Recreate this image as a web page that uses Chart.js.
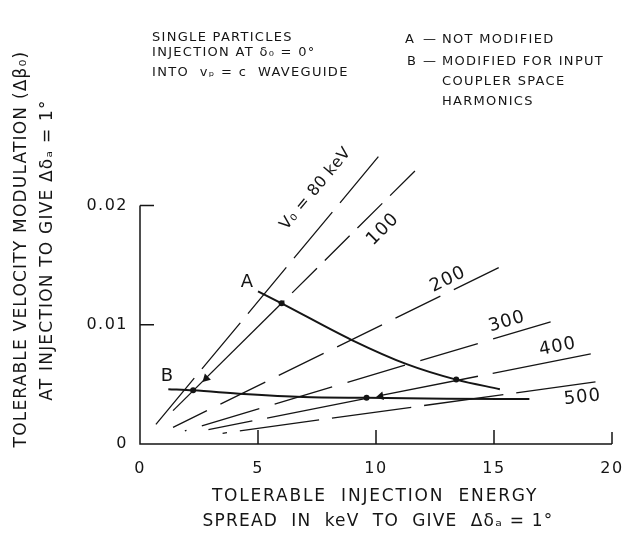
<!DOCTYPE html>
<html>
<head>
<meta charset="utf-8">
<script src="https://cdn.jsdelivr.net/npm/chart.js@4.4.1/dist/chart.umd.min.js"></script>
<style>
  html, body { margin: 0; padding: 0; background: #fff; }
  #myChart { display: block; }
</style>
</head>
<body>
<canvas id="myChart" width="632" height="546"></canvas>
<script>
// Dados //
const voltages = ['80', '100', '200', '300', '400', '500'];   // V0 em keV
const lineStartX = [0.4, 1.4, 1.4, 1.9, 2.9, 3.5];
const lineStartY = [0.001, 0.0028, 0.0014, 0.0011, 0.0012, 0.0009];
const lineEndX = [10.1, 11.65, 15.2, 17.4, 19.1, 19.3];
const lineEndY = [0.0241, 0.0229, 0.0148, 0.01025, 0.00756, 0.00521];

// curva A (nao modificada) e curva B (modificada)
const curveAX = [5.0, 6.0, 9.0, 11.3, 13.4, 15.25];
const curveAY = [0.0128, 0.0118, 0.0087, 0.0067, 0.0054, 0.0046];
const curveBX = [1.2, 2.25, 4.4, 6.9, 9.6, 13.0, 16.5];
const curveBY = [0.0046, 0.0045, 0.0042, 0.00395, 0.00387, 0.0038, 0.00378];
const dotIndexA = [1, 4];
const dotIndexB = [1, 4];

// setas de A para B
const arrowX = [2.8, 10.2];
const arrowY = [0.0055, 0.0040];

const xTicks = [0, 5, 10, 15, 20];
const yTicks = [0, 0.01, 0.02];

// onde ficam os rotulos das retas (coordenadas de dados)
const labelX = [7.45, 10.3, 13.05, 15.55, 17.7, 18.75];
const labelY = [0.0214, 0.0180, 0.0138, 0.01025, 0.00815, 0.0039];
// fim dos dados //

const ink = '#151515';
const dashes = [[60, 12], [35, 11], [50, 15], [60, 16], [100, 15], [80, 13]];
const fontFam = "'DejaVu Sans', 'Liberation Sans', sans-serif";

// retas desenhadas do fim para o inicio, assim o tracejado termina cheio no alto
const datasets = voltages.map((v, i) => {
    const pts = [{ x: lineEndX[i], y: lineEndY[i] }, { x: lineStartX[i], y: lineStartY[i] }];
    if (v === '100') {
        // tracejada acima do ponto A, solida abaixo
        pts.splice(1, 0, { x: curveAX[1], y: curveAY[1] });
    }
    return {
        label: v + ' keV',
        data: pts,
        borderColor: ink,
        borderWidth: 1.3,
        borderDash: dashes[i],
        pointRadius: 0,
        segment: v === '100' ? { borderDash: c => c.p0DataIndex === 0 ? dashes[i] : [] } : undefined
    };
});

datasets.push({
    label: 'A',
    data: curveAX.map((x, i) => ({ x: x, y: curveAY[i] })),
    borderColor: ink,
    borderWidth: 2,
    cubicInterpolationMode: 'monotone',
    pointRadius: curveAX.map((x, i) => dotIndexA.includes(i) ? 3 : 0),
    pointBackgroundColor: ink,
    pointBorderWidth: 0
});
datasets.push({
    label: 'B',
    data: curveBX.map((x, i) => ({ x: x, y: curveBY[i] })),
    borderColor: ink,
    borderWidth: 2,
    cubicInterpolationMode: 'monotone',
    pointRadius: curveBX.map((x, i) => dotIndexB.includes(i) ? 3 : 0),
    pointBackgroundColor: ink,
    pointBorderWidth: 0
});
datasets.push({
    label: 'setas',
    data: arrowX.map((x, i) => ({ x: x, y: arrowY[i] })),
    showLine: false,
    pointStyle: 'triangle',
    pointRadius: 5,
    pointRotation: [226, 259],
    pointBackgroundColor: ink,
    pointBorderColor: ink,
    pointBorderWidth: 0
});

function txt(ctx, s, x, y, size, align, spacing) {
    ctx.font = size + 'px ' + fontFam;
    ctx.textAlign = align || 'left';
    ctx.textBaseline = 'middle';
    ctx.letterSpacing = (spacing || 0) + 'px';
    ctx.fillText(s, x, y);
}

const extras = {
    id: 'extras',
    beforeDraw(chart) {
        chart.ctx.letterSpacing = '1.5px';
    },
    afterDraw(chart) {
        const ctx = chart.ctx;
        const xs = chart.scales.x, ys = chart.scales.y;
        const x0 = xs.getPixelForValue(0), y0 = ys.getPixelForValue(0);
        ctx.save();
        ctx.strokeStyle = ink;
        ctx.fillStyle = ink;
        ctx.lineWidth = 1.5;

        // eixos
        ctx.beginPath();
        ctx.moveTo(x0, ys.getPixelForValue(0.02));
        ctx.lineTo(x0, y0);
        ctx.lineTo(xs.getPixelForValue(20), y0);
        xTicks.slice(1).forEach(v => {
            const px = xs.getPixelForValue(v);
            ctx.moveTo(px, y0);
            ctx.lineTo(px, y0 - (v === 20 ? 12 : 14));
        });
        yTicks.slice(1).forEach(v => {
            const py = ys.getPixelForValue(v);
            ctx.moveTo(x0, py);
            ctx.lineTo(x0 + 14, py);
        });
        ctx.stroke();

        // rotulos das retas
        voltages.forEach((v, i) => {
            const ang = Math.atan2(ys.getPixelForValue(lineEndY[i]) - ys.getPixelForValue(lineStartY[i]),
                                   xs.getPixelForValue(lineEndX[i]) - xs.getPixelForValue(lineStartX[i]));
            ctx.save();
            ctx.translate(xs.getPixelForValue(labelX[i]), ys.getPixelForValue(labelY[i]));
            ctx.rotate(i === 5 ? ang * 0.8 : ang);
            if (i === 0) {
                txt(ctx, 'V\u2080 = 80 keV', 0, 0, 16, 'center', 0.5);
            } else {
                txt(ctx, v, 0, 0, 18, 'center', 1);
            }
            ctx.restore();
        });
        txt(ctx, 'A', xs.getPixelForValue(4.53), ys.getPixelForValue(0.01353), 18, 'center');
        txt(ctx, 'B', xs.getPixelForValue(1.14), ys.getPixelForValue(0.00571), 18, 'center');

        // notas no topo
        txt(ctx, 'SINGLE PARTICLES', 152, 38, 13, 'left', 1.3);
        txt(ctx, 'INJECTION AT \u03b4\u2080 = 0\u00b0', 152, 53, 13, 'left', 1.3);
        txt(ctx, 'INTO  v\u209a = c  WAVEGUIDE', 152, 73, 13, 'left', 1.3);
        txt(ctx, 'A', 405, 40, 13, 'left', 1.3);
        txt(ctx, '\u2014', 423, 40, 13, 'left');
        txt(ctx, 'NOT MODIFIED', 442, 40, 13, 'left', 1.3);
        txt(ctx, 'B', 407, 62, 13, 'left', 1.3);
        txt(ctx, '\u2014', 423, 62, 13, 'left');
        txt(ctx, 'MODIFIED FOR INPUT', 442, 62, 13, 'left', 1.3);
        txt(ctx, 'COUPLER SPACE', 442, 82, 13, 'left', 1.3);
        txt(ctx, 'HARMONICS', 442, 102, 13, 'left', 1.3);

        // titulos dos eixos
        txt(ctx, 'TOLERABLE  INJECTION  ENERGY', 375, 497, 17, 'center', 1.8);
        txt(ctx, 'SPREAD  IN  keV  TO  GIVE  \u0394\u03b4\u2090 = 1\u00b0', 378, 522, 17, 'center', 1.2);
        ctx.save();
        ctx.translate(22, 249);
        ctx.rotate(-Math.PI / 2);
        txt(ctx, 'TOLERABLE VELOCITY MODULATION (\u0394\u03b2\u2080)', 0, 0, 17, 'center', 1.2);
        ctx.restore();
        ctx.save();
        ctx.translate(48, 250);
        ctx.rotate(-Math.PI / 2);
        txt(ctx, 'AT INJECTION TO GIVE \u0394\u03b4\u2090 = 1\u00b0', 0, 0, 17, 'center', 1.2);
        ctx.restore();

        ctx.restore();
        ctx.letterSpacing = '0px';
    }
};

const ctx = document.getElementById('myChart');

new Chart(ctx, {
    type: 'line',
    data: { datasets: datasets },
    plugins: [extras],
    options: {
        responsive: false,
        animation: false,
        devicePixelRatio: 1,
        layout: { padding: { top: 140, right: 20, left: 0, bottom: 0 } },
        plugins: {
            legend: { display: false },
            tooltip: { enabled: false }
        },
        scales: {
            x: {
                type: 'linear',
                min: 0,
                max: 20,
                afterBuildTicks: s => { s.ticks = xTicks.map(v => ({ value: v })); },
                afterFit: s => { s.height = 102; s.paddingLeft = 0; s.paddingRight = 0; },
                grid: { display: false, drawTicks: false },
                border: { display: false },
                ticks: {
                    padding: 15,
                    color: ink,
                    maxRotation: 0,
                    font: { family: fontFam, size: 16 }
                }
            },
            y: {
                type: 'linear',
                min: 0,
                max: 0.0255,
                afterBuildTicks: s => { s.ticks = yTicks.map(v => ({ value: v })); },
                afterFit: s => { s.width = 140; s.paddingTop = 0; s.paddingBottom = 0; },
                grid: { display: false, drawTicks: false },
                border: { display: false },
                ticks: {
                    padding: 12,
                    color: ink,
                    font: { family: fontFam, size: 16 },
                    callback: v => v === 0 ? '0' : v.toFixed(2)
                }
            }
        }
    }
});
</script>
</body>
</html>
